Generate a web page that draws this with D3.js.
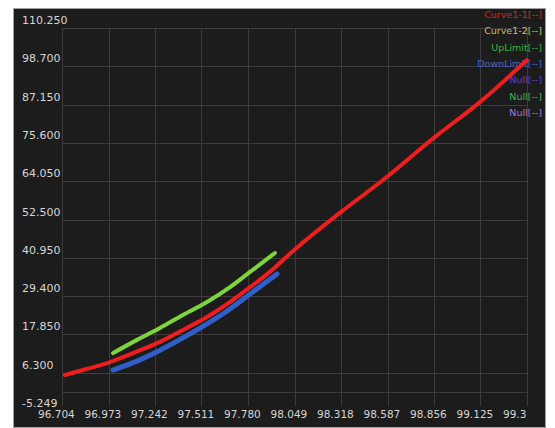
<!DOCTYPE html>
<html lang="en">
<head>
    <meta charset="utf-8">
    <title>Curve chart</title>
    <script src="https://d3js.org/d3.v7.min.js"></script>
<style>
    body { margin: 0; background: #ffffff; }
    #chart1 { width: 555px; height: 428px; }
    text { font-family: "DejaVu Sans", sans-serif; }
</style>
</head>
<body>
  <div id="chart1"></div>

<script>

    // data
    const xTicks = [96.704, 96.973, 97.242, 97.511, 97.780, 98.049, 98.318, 98.587, 98.856, 99.125, 99.394]
    const xTickLabels = ["96.704", "96.973", "97.242", "97.511", "97.780", "98.049", "98.318", "98.587", "98.856", "99.125", "99.3"]
    const yTicks = [110.25, 98.70, 87.15, 75.60, 64.05, 52.50, 40.95, 29.40, 17.85, 6.30, -5.249]
    const yTickLabels = ["110.250", "98.700", "87.150", "75.600", "64.050", "52.500", "40.950", "29.400", "17.850", "6.300", "-5.249"]

    const curveX = [96.721, 96.825, 96.982, 97.115, 97.271, 97.404, 97.543, 97.676, 97.792, 97.907, 97.983, 98.081, 98.312, 98.561, 98.862, 99.122, 99.394]
    const curveY = [5.6, 7.1, 9.5, 12.2, 15.6, 19.2, 23.1, 27.6, 32.1, 36.7, 40.3, 44.8, 54.5, 64.4, 77.4, 87.9, 100.6]

    const upX = [96.999, 97.138, 97.271, 97.404, 97.543, 97.676, 97.792, 97.936]
    const upY = [12.2, 16.2, 19.8, 23.7, 27.6, 32.1, 36.7, 42.4]

    const downX = [96.999, 97.138, 97.271, 97.404, 97.543, 97.676, 97.792, 97.948]
    const downY = [7.1, 9.8, 13.1, 16.8, 21.0, 25.5, 30.0, 36.1]

    const legendNames = ["Curve1-1[--]", "Curve1-2[--]", "UpLimit[--]", "DownLimit[--]", "Null[--]", "Null[--]", "Null[--]"]
    const legendColors = ["#d42424", "#c4c060", "#3fb048", "#4a66c4", "#6a3cc0", "#3fb84a", "#a477d6"]

    const chartApp = {}

    chartApp.buildChart = () => {

        d3.select('#chart1').html('')

        var width = 555, height = 428
        // plot box of the instrument screen
        var plot = {left: 62, right: 527, top: 28, bottom: 406, base: 392}

        var svg = d3.select("#chart1")
            .append("svg")
            .attr("width", width)
            .attr("height", height)

        // dark panel
        svg.append("rect")
            .attr("x", 13.5)
            .attr("y", 8.5)
            .attr("width", 532)
            .attr("height", 419)
            .attr("fill", "#1c1c1c")
            .attr("stroke", "#a0a0a0")
            .attr("stroke-width", 1)

        var x = d3.scaleLinear()
            .domain([xTicks[0], xTicks[xTicks.length - 1]])
            .range([plot.left, plot.right])

        var y = d3.scaleLinear()
            .domain([yTicks[yTicks.length - 1], yTicks[0]])
            .range([411, plot.top])

        var grid = svg.append("g").attr("class", "grid")

        // vertical grid
        grid.selectAll(".vline")
            .data(xTicks)
            .enter().append("line")
            .attr("x1", d => Math.round(x(d)) + 0.5)
            .attr("x2", d => Math.round(x(d)) + 0.5)
            .attr("y1", plot.top)
            .attr("y2", plot.bottom)
            .attr("stroke", "#3c3c3c")

        // horizontal grid (the last label sits under the box)
        grid.selectAll(".hline")
            .data(yTicks.filter(d => y(d) <= plot.bottom))
            .enter().append("line")
            .attr("x1", plot.left)
            .attr("x2", plot.right)
            .attr("y1", d => Math.round(y(d)) + 0.5)
            .attr("y2", d => Math.round(y(d)) + 0.5)
            .attr("stroke", "#3c3c3c")

        grid.append("line")
            .attr("x1", plot.left)
            .attr("x2", plot.right)
            .attr("y1", plot.base + 0.5)
            .attr("y2", plot.base + 0.5)
            .attr("stroke", "#3c3c3c")

        // y labels, left aligned like the instrument does
        svg.append("g")
            .selectAll("text")
            .data(yTicks)
            .enter().append("text")
            .attr("x", 22)
            .attr("y", d => y(d) - 4)
            .attr("fill", "#d6d6d6")
            .style("font-size", "11px")
            .text((d, i) => yTickLabels[i])

        // x labels
        svg.append("g")
            .selectAll("text")
            .data(xTicks)
            .enter().append("text")
            .attr("x", d => x(d) - 24)
            .attr("y", 418)
            .attr("fill", "#d6d6d6")
            .style("font-size", "10.5px")
            .text((d, i) => xTickLabels[i])

        // legend top right
        svg.append("g")
            .selectAll("text")
            .data(legendNames)
            .enter().append("text")
            .attr("x", 542)
            .attr("y", (d, i) => 18 + i * 16.3)
            .attr("text-anchor", "end")
            .attr("fill", (d, i) => legendColors[i])
            .style("font-size", "9.5px")
            .text(d => d)

        var line = d3.line()
            .x(d => x(d[0]))
            .y(d => y(d[1]))
            .curve(d3.curveMonotoneX)

        var series = [
            {xs: upX, ys: upY, color: "#7fd43c", w: 4},
            {xs: downX, ys: downY, color: "#2f5ec8", w: 5},
            {xs: curveX, ys: curveY, color: "#ee1e1e", w: 4}
        ]

        series.forEach(function(s) {
            svg.append("path")
                .datum(s.xs.map((v, i) => [v, s.ys[i]]))
                .attr("d", line)
                .attr("fill", "none")
                .attr("stroke", s.color)
                .attr("stroke-width", s.w)
                .attr("stroke-linecap", "round")
                .attr("stroke-linejoin", "round")
        })
    }

    chartApp.init = () => {
        chartApp.buildChart()
    }
    chartApp.init()

</script>

</body>
</html>
